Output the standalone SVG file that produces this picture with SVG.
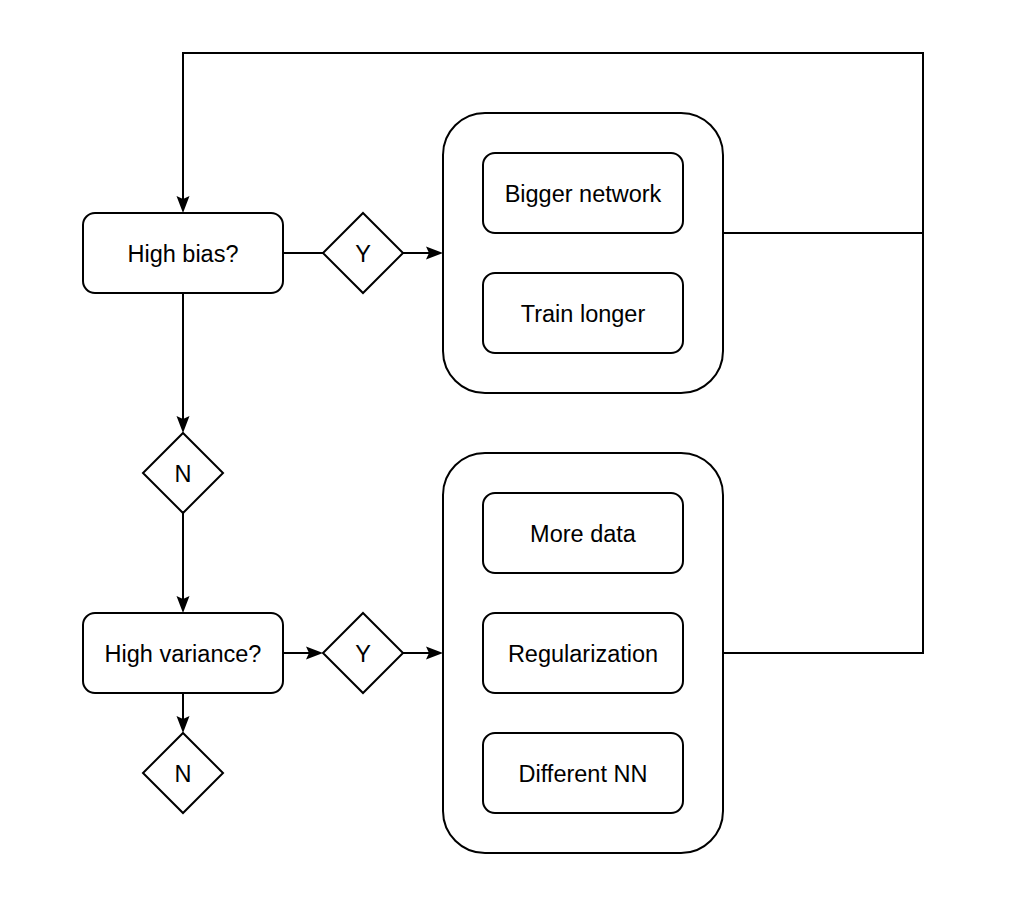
<svg xmlns="http://www.w3.org/2000/svg" width="1028" height="912" viewBox="0 0 1028 912">
<style>
.box{fill:#fff;stroke:#000;stroke-width:2}
.lbl{font-family:"Liberation Sans",Arial,sans-serif;font-size:23.5px;fill:#000;text-anchor:middle}
.edge{fill:none;stroke:#000;stroke-width:2}
</style>
<defs>
<marker id="arr" markerUnits="userSpaceOnUse" markerWidth="18" markerHeight="14" refX="13" refY="7" orient="auto" viewBox="0 0 18 14">
<path d="M0,0.5 L17,7 L0,13.5 L3,7 Z" fill="#000"/>
</marker>
</defs>
<rect width="1028" height="912" fill="#fff"/>
<g id="connectors">
<path class="edge" d="M723,233 H923 V53 H183 V209" marker-end="url(#arr)"/>
<path class="edge" d="M723,653 H923 V233"/>
<path class="edge" d="M283,253 H323"/>
<path class="edge" d="M403,253 H439" marker-end="url(#arr)"/>
<path class="edge" d="M183,293 V429" marker-end="url(#arr)"/>
<path class="edge" d="M183,513 V609" marker-end="url(#arr)"/>
<path class="edge" d="M283,653 H319" marker-end="url(#arr)"/>
<path class="edge" d="M403,653 H439" marker-end="url(#arr)"/>
<path class="edge" d="M183,693 V729" marker-end="url(#arr)"/>
</g>
<g id="high-bias">
<rect class="box" x="83" y="213" width="200" height="80" rx="12" ry="12"/>
<text class="lbl" x="183" y="262">High bias?</text>
</g>
<g id="y1">
<polygon class="box" points="363,213 403,253 363,293 323,253"/>
<text class="lbl" x="363" y="262">Y</text>
</g>
<g id="bias-fixes">
<rect class="box" x="443" y="113" width="280" height="280" rx="42" ry="42"/>
</g>
<g id="bigger-network">
<rect class="box" x="483" y="153" width="200" height="80" rx="12" ry="12"/>
<text class="lbl" x="583" y="202">Bigger network</text>
</g>
<g id="train-longer">
<rect class="box" x="483" y="273" width="200" height="80" rx="12" ry="12"/>
<text class="lbl" x="583" y="322">Train longer</text>
</g>
<g id="n1">
<polygon class="box" points="183,433 223,473 183,513 143,473"/>
<text class="lbl" x="183" y="482">N</text>
</g>
<g id="high-variance">
<rect class="box" x="83" y="613" width="200" height="80" rx="12" ry="12"/>
<text class="lbl" x="183" y="662">High variance?</text>
</g>
<g id="y2">
<polygon class="box" points="363,613 403,653 363,693 323,653"/>
<text class="lbl" x="363" y="662">Y</text>
</g>
<g id="n2">
<polygon class="box" points="183,733 223,773 183,813 143,773"/>
<text class="lbl" x="183" y="782">N</text>
</g>
<g id="variance-fixes">
<rect class="box" x="443" y="453" width="280" height="400" rx="42" ry="42"/>
</g>
<g id="more-data">
<rect class="box" x="483" y="493" width="200" height="80" rx="12" ry="12"/>
<text class="lbl" x="583" y="542">More data</text>
</g>
<g id="regularization">
<rect class="box" x="483" y="613" width="200" height="80" rx="12" ry="12"/>
<text class="lbl" x="583" y="662">Regularization</text>
</g>
<g id="different-nn">
<rect class="box" x="483" y="733" width="200" height="80" rx="12" ry="12"/>
<text class="lbl" x="583" y="782">Different NN</text>
</g>
</svg>
